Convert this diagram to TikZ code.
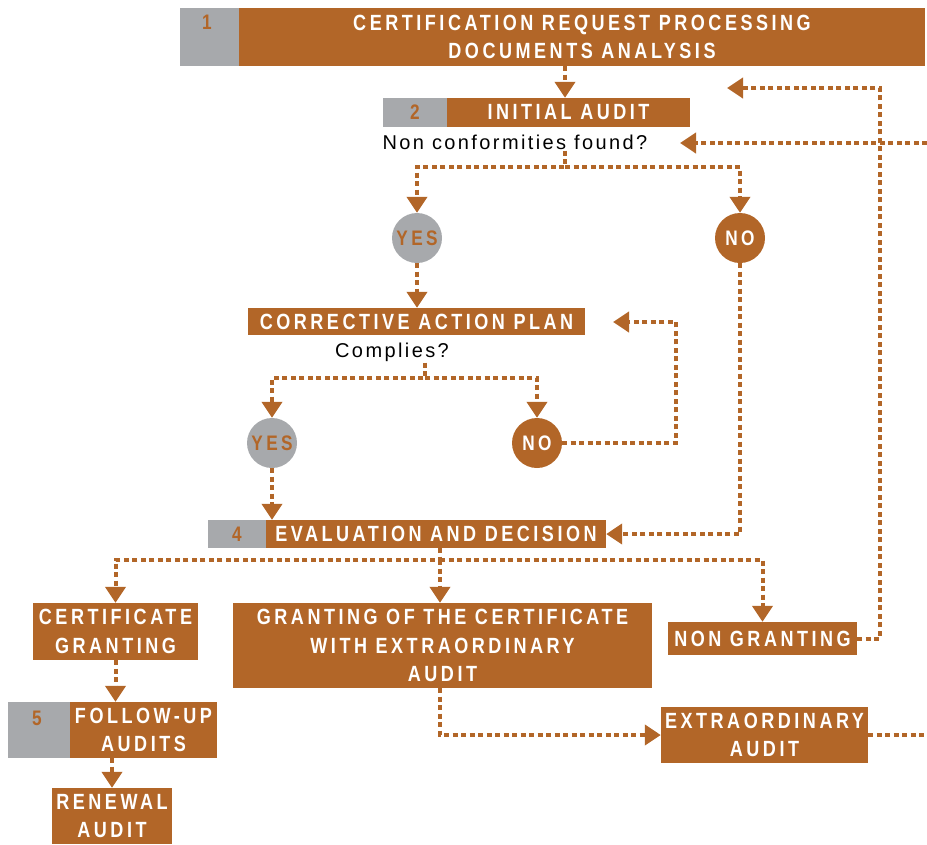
\documentclass[tikz,border=0pt]{standalone}
\usepackage{fontspec}
\setmainfont{Liberation Sans}[LetterSpace=12]
\newfontfamily\boxfont{Liberation Sans}[FakeStretch=0.82,LetterSpace=16]
\usetikzlibrary{arrows.meta}
\definecolor{brn}{RGB}{178,102,40}
\definecolor{gry}{RGB}{167,169,172}
\tikzset{
  bbox/.style={draw=none,fill=brn,text=white,inner sep=0pt,align=center,
    font=\boxfont\bfseries\fontsize{22}{28.5}\selectfont},
  gbox/.style={draw=none,fill=gry,text=brn,inner sep=0pt,
    font=\boxfont\bfseries\fontsize{21}{22}\selectfont},
  numtxt/.style={text=brn,inner sep=0pt,font=\boxfont\bfseries\fontsize{21}{22}\selectfont},
  qtxt/.style={text=black,inner sep=1pt,font=\fontsize{20}{24}\selectfont},
  yescirc/.style={circle,fill=gry,text=brn,inner sep=0pt,minimum size=50pt,
    font=\boxfont\bfseries\fontsize{21}{22}\selectfont},
  nocirc/.style={circle,fill=brn,text=white,inner sep=0pt,minimum size=50pt,
    font=\boxfont\bfseries\fontsize{21}{22}\selectfont},
  conn/.style={draw=brn,line width=4pt,dash pattern=on 5pt off 3.5pt,
    -{Triangle[width=20pt,length=16pt]}},
  connplain/.style={draw=brn,line width=4pt,dash pattern=on 5pt off 3.5pt},
}
\begin{document}
\begin{tikzpicture}[x=1pt,y=-1pt]
\useasboundingbox (0,0) rectangle (927,844);
% box 1
\node[gbox,minimum width=59pt,minimum height=58pt] (g1) at (209.5,37) {};
\node[numtxt] (n1) at (207,22) {1};
\node[bbox,minimum width=686pt,minimum height=58pt] (b1) at (582,37)
  {CERTIFICATION REQUEST PROCESSING\\DOCUMENTS ANALYSIS};
% box 2
\node[gbox,minimum width=64pt,minimum height=29pt] (g2) at (415,112.5) {2};
\node[bbox,minimum width=243pt,minimum height=29pt] (b2) at (568.5,112.5) {INITIAL AUDIT};
\node[qtxt] (q1) at (515,142) {Non conformities found?};
% circles
\node[yescirc] (yes1) at (417,238) {YES};
\node[nocirc] (no1) at (740,238) {NO};
% corrective action plan
\node[bbox,minimum width=337pt,minimum height=27pt] (cap) at (416.5,321.5) {CORRECTIVE ACTION PLAN};
\node[qtxt] (q2) at (392,352) {Complies?};
\node[yescirc] (yes2) at (272,443) {YES};
\node[nocirc] (no2) at (537,443) {NO};
% box 4
\node[gbox,minimum width=58pt,minimum height=28pt] (g4) at (237,534) {4};
\node[bbox,minimum width=340pt,minimum height=28pt] (b4) at (436,534) {EVALUATION AND DECISION};
% outcomes
\node[bbox,minimum width=165pt,minimum height=57pt] (cg) at (115.5,631.5) {CERTIFICATE\\GRANTING};
\node[bbox,minimum width=419pt,minimum height=85pt] (gc) at (442.5,645.5)
  {GRANTING OF THE CERTIFICATE\\WITH EXTRAORDINARY\\AUDIT};
\node[bbox,minimum width=189pt,minimum height=33pt] (ng) at (762.5,638.5) {NON GRANTING};
% box 5
\node[gbox,minimum width=62pt,minimum height=56pt] (g5) at (39,730) {};
\node[numtxt] (n5) at (37,718) {5};
\node[bbox,minimum width=147pt,minimum height=56pt] (b5) at (143.5,730) {FOLLOW-UP\\AUDITS};
\node[bbox,minimum width=120pt,minimum height=56pt] (rn) at (112,816) {RENEWAL\\AUDIT};
\node[bbox,minimum width=207pt,minimum height=56pt] (ea) at (764.5,735) {EXTRAORDINARY\\AUDIT};
% coordinates
\coordinate (j1) at (565,167);
\coordinate (j2) at (425,378);
\coordinate (r2) at (676,322);
\coordinate (e2) at (613,322);
\coordinate (j4) at (440,560);
\coordinate (r1) at (880,88);
\coordinate (e1) at (727,88);
\coordinate (edge1) at (927,143);
\coordinate (e3) at (680,143);
\coordinate (edge2) at (927,735);
% connectors
\draw[conn] (b1.south -| j1) -- (b2.north -| j1);
\draw[conn] (q1.south -| j1) -- (j1) -| (yes1.north);
\draw[conn] (j1) -| (no1.north);
\draw[conn] (yes1.south) -- (yes1.south |- cap.north);
\draw[conn] (q2.south -| j2) -- (j2) -| (yes2.north);
\draw[conn] (j2) -| (no2.north);
\draw[conn] (no2.east) -- (no2.east -| r2) -- (r2) -- (e2);
\draw[conn] (yes2.south) -- (yes2.south |- b4.north);
\draw[conn] (no1.south) |- (b4.east);
\draw[conn] (b4.south -| j4) -- (j4) -| (cg.north);
\draw[conn] (j4) -- (j4 |- gc.north);
\draw[conn] (j4) -| (ng.north);
\draw[conn] (ng.east) -| (r1) -- (e1);
\draw[conn] (edge1) -- (e3);
\draw[conn] (cg.south) -- (cg.south |- b5.north);
\draw[conn] (rn.north |- b5.south) -- (rn.north);
\draw[conn] (gc.south -| j4) |- (ea.west);
\draw[connplain] (ea.east) -- (edge2);
\end{tikzpicture}
\end{document}
